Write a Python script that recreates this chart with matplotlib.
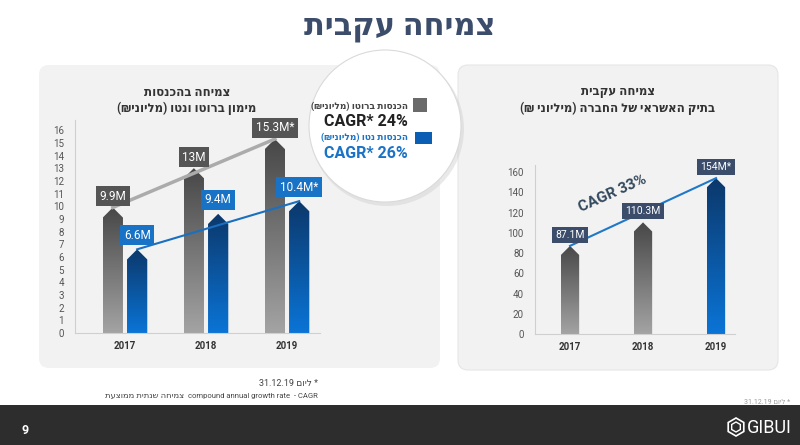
import re
import numpy as np
import matplotlib.pyplot as plt
from matplotlib.patches import Polygon, FancyBboxPatch, Circle, Rectangle, RegularPolygon
from matplotlib.colors import LinearSegmentedColormap

plt.rcParams['font.family'] = ['Roboto', 'DejaVu Sans']

years = ['2017', '2018', '2019']
gross = [9.9, 13.0, 15.3]
net = [6.6, 9.4, 10.4]
gross_labels = ['9.9M', '13M', '15.3M*']
net_labels = ['6.6M', '9.4M', '10.4M*']
credit = [87.1, 110.3, 154.0]
credit_labels = ['87.1M', '110.3M', '154M*']
left_ticks = list(range(0, 17))
right_ticks = list(range(0, 161, 20))


def rtl(s):
    # matplotlib has no bidi, so put hebrew in visual order by hand
    r = s[::-1].translate(str.maketrans('()', ')('))
    return re.sub(r'[0-9A-Za-z.%*]+', lambda m: m.group(0)[::-1], r)


gray_cm = LinearSegmentedColormap.from_list('g', ['#a3a3a3', '#484848'])
blue_cm = LinearSegmentedColormap.from_list('b', ['#0a74d6', '#0c386b'])


def arrow_bar(ax, x, w, v, head, cmap):
    verts = [(x - w / 2, 0), (x + w / 2, 0), (x + w / 2, v - head), (x, v), (x - w / 2, v - head)]
    poly = Polygon(verts, closed=True, fc='none', ec='none', transform=ax.transData)
    ax.add_patch(poly)
    grad = np.linspace(0, 1, 100).reshape(-1, 1)
    im = ax.imshow(grad, extent=[x - w / 2, x + w / 2, 0, v], origin='lower',
                   aspect='auto', cmap=cmap, zorder=2)
    im.set_clip_path(poly)


def label(ax, x, v, text, color, size, dy=8):
    ax.annotate(text, (x, v), xytext=(0, dy), textcoords='offset points',
                ha='center', va='center', color='white', fontsize=size, zorder=6,
                bbox=dict(boxstyle='square,pad=0.3', fc=color, ec='none'))


def px_axes(fig, l, r, t, b):
    return fig.add_axes([l / 800, (445 - b) / 445, (r - l) / 800, (b - t) / 445])


fig = plt.figure(figsize=(8, 4.45), dpi=100)
fig.patch.set_facecolor('white')

bg = fig.add_axes([0, 0, 1, 1])
bg.set_xlim(0, 800)
bg.set_ylim(445, 0)
bg.axis('off')

bg.add_patch(FancyBboxPatch((39, 65), 401, 303, boxstyle='round,pad=0,rounding_size=10',
                            fc='#f2f2f2', ec='none'))
bg.add_patch(FancyBboxPatch((458, 65), 320, 305, boxstyle='round,pad=0,rounding_size=10',
                            fc='#f2f2f2', ec='#e6e6e6', lw=0.8))
bg.add_patch(Circle((387, 129), 77, fc='#cfcfcf', ec='none', alpha=0.45))
bg.add_patch(Circle((385, 126), 76, fc='white', ec='#dadada', lw=0.8))
bg.add_patch(Rectangle((0, 405), 800, 40, fc='#2d2d2d', ec='none'))

bg.text(400, 27, rtl('צמיחה עקבית'), ha='center', va='center', fontsize=22,
        fontweight='bold', color='#3b4d6b')

# legend inside the circle
bg.add_patch(Rectangle((413, 98), 14, 14, fc='#6a6a6a', ec='none'))
bg.add_patch(Rectangle((415, 132), 17, 12, fc='#0a5fb4', ec='none'))
bg.text(408, 106, rtl('הכנסות ברוטו (מליוני₪)'), ha='right', va='center', fontsize=6.5,
        color='#444444', fontweight='bold')
bg.text(408, 122, 'CAGR* 24%', ha='right', va='center', fontsize=11.5,
        fontweight='bold', color='#222222')
bg.text(408, 137, rtl('הכנסות נטו (מליוני₪)'), ha='right', va='center', fontsize=6.5,
        color='#1a73c6', fontweight='bold')
bg.text(408, 153, 'CAGR* 26%', ha='right', va='center', fontsize=11.5,
        fontweight='bold', color='#1a73c6')

# panel titles
bg.text(187, 92, rtl('צמיחה בהכנסות'), ha='center', va='center', fontsize=8.5,
        fontweight='bold', color='#333333')
bg.text(187, 108, rtl('מימון ברוטו ונטו (מליוני₪)'), ha='center', va='center',
        fontsize=8.5, fontweight='bold', color='#333333')
bg.text(618, 92, rtl('צמיחה עקבית'), ha='center', va='center', fontsize=8.5,
        fontweight='bold', color='#333333')
bg.text(618, 108, rtl('בתיק האשראי של החברה (מיליוני ₪)'), ha='center', va='center',
        fontsize=8.5, fontweight='bold', color='#333333')

# footnotes
bg.text(318, 384, rtl('* ליום 31.12.19'), ha='right', va='center', fontsize=6.5, color='#444444')
bg.text(318, 396, 'compound annual growth rate  - CAGR', ha='right', va='center',
        fontsize=5.5, color='#444444')
bg.text(184, 396, rtl('צמיחה שנתית ממוצעת'), ha='right', va='center', fontsize=6,
        color='#444444')
bg.text(790, 402, rtl('* ליום 31.12.19'), ha='right', va='center', fontsize=5, color='#9a9a9a')

# footer
bg.text(25, 430, '9', ha='center', va='center', fontsize=9, fontweight='bold', color='white')
bg.add_patch(RegularPolygon((736, 427), 6, radius=9, fc='none', ec='white', lw=1.2))
bg.add_patch(RegularPolygon((736, 427), 6, radius=5, fc='none', ec='white', lw=1.0))
bg.text(769, 428, 'GIBUI', ha='center', va='center', fontsize=13, color='white')

# left chart
ax = px_axes(fig, 75, 320, 120, 333)
ax.patch.set_alpha(0)
x = np.arange(len(years))
w = 0.25
for i in range(len(years)):
    arrow_bar(ax, x[i] - 0.15, w, gross[i], 0.8, gray_cm)
    arrow_bar(ax, x[i] + 0.15, w, net[i], 0.8, blue_cm)
    label(ax, x[i] - 0.15, gross[i], gross_labels[i], '#555555', 8.5)
    label(ax, x[i] + 0.15, net[i], net_labels[i], '#1872c6', 8.5, dy=10)
ax.plot([x[0] - 0.15, x[2] - 0.15], [gross[0], gross[2]], color='#ababab', lw=2.5, zorder=5)
ax.plot([x[0] + 0.15, x[2] + 0.15], [net[0], net[2]], color='#1a6fc0', lw=1.5, zorder=5)
ax.set_xlim(-0.617, 2.407)
ax.set_ylim(0, 16.8)
ax.set_yticks(left_ticks)
ax.set_xticks(x)
ax.set_xticklabels(years, fontsize=9.5, fontweight='bold', color='#333333')
ax.tick_params(length=0, labelsize=7, colors='#555555', pad=8)
ax.tick_params(axis='x', colors='#333333', pad=6)
for s in ['top', 'right']:
    ax.spines[s].set_visible(False)
for s in ['left', 'bottom']:
    ax.spines[s].set_color('#cfcfcf')
    ax.spines[s].set_linewidth(0.8)

# right chart
ax2 = px_axes(fig, 535, 735, 165, 334)
ax2.patch.set_alpha(0)
w2 = 0.25
cms = [gray_cm, gray_cm, blue_cm]
for i in range(len(years)):
    arrow_bar(ax2, x[i], w2, credit[i], 9, cms[i])
    label(ax2, x[i], credit[i], credit_labels[i], '#3b4d6b', 7.5, dy=8)
ax2.plot([x[0], x[2]], [credit[0], credit[2]], color='#1f78c8', lw=1.5, zorder=5)
ax2.text(0.59, 139, 'CAGR 33%', rotation=24, ha='center', va='center', fontsize=11,
         fontweight='bold', color='#34495e', zorder=6)
ax2.set_xlim(-0.48, 2.26)
ax2.set_ylim(0, 167)
ax2.set_yticks(right_ticks)
ax2.set_xticks(x)
ax2.set_xticklabels(years, fontsize=9.5, fontweight='bold', color='#333333')
ax2.tick_params(length=0, labelsize=7, colors='#555555', pad=8)
ax2.tick_params(axis='x', colors='#333333', pad=6)
for s in ['top', 'right']:
    ax2.spines[s].set_visible(False)
for s in ['left', 'bottom']:
    ax2.spines[s].set_color('#cfcfcf')
    ax2.spines[s].set_linewidth(0.8)

fig.savefig('out.png', dpi=100)
